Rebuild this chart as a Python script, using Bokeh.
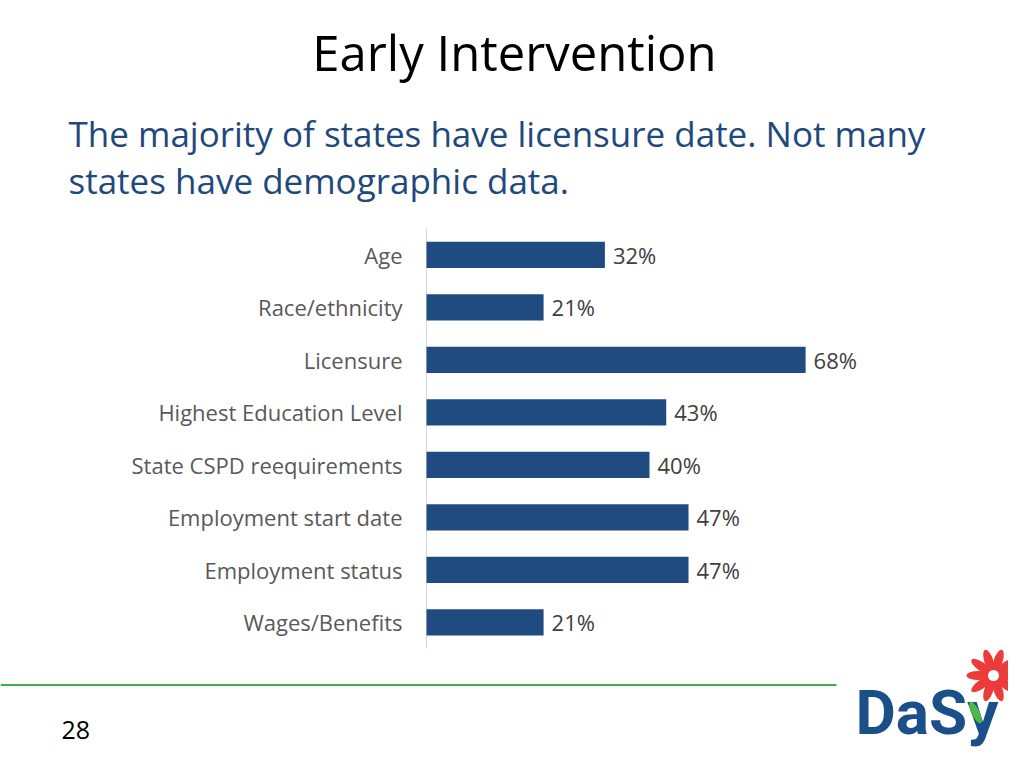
import math
from bokeh.plotting import figure
from bokeh.models import Range1d, ColumnDataSource
from bokeh.core.properties import value
from bokeh.embed import file_html
from bokeh.resources import INLINE

# ---- data ----
categories = ["Age", "Race/ethnicity", "Licensure", "Highest Education Level",
              "State CSPD reequirements", "Employment start date",
              "Employment status", "Wages/Benefits"]
values = [32, 21, 68, 43, 40, 47, 47, 21]
value_labels = [f"{v}%" for v in values]

title_text = "Early Intervention"
subtitle_lines = ["The majority of states have licensure date.  Not many",
                  "states have demographic data."]
page_number = "28"
logo_text = "DaSy"

# ---- layout constants (pixels) ----
W, H = 1008, 752
PLOT_L, PLOT_R = 426, 872        # bar area left / right
PLOT_T, PLOT_B = 228, 648        # bar area top / bottom
X_MAX = 80                        # percent at PLOT_R
FONT = "Open Sans"
BAR = "#1F4B80"

n = len(categories)
px_per_pct = (PLOT_R - PLOT_L) / X_MAX
px_per_cat = (PLOT_B - PLOT_T) / n

x_range = Range1d(-PLOT_L / px_per_pct, (W - PLOT_L) / px_per_pct)
# category index increases downward (index 0 at top)
y_range = Range1d((H - PLOT_T) / px_per_cat - 0.5, -PLOT_T / px_per_cat - 0.5)

p = figure(width=W, height=H, output_backend="svg", toolbar_location=None,
           x_range=x_range, y_range=y_range,
           x_axis_location=None, y_axis_location=None, min_border=0)
p.outline_line_color = None
p.grid.visible = False
p.background_fill_color = "white"
p.border_fill_color = "white"
p.extra_x_ranges = {"px": Range1d(0, W)}
p.extra_y_ranges = {"px": Range1d(H, 0)}
PX = dict(x_range_name="px", y_range_name="px")

src = ColumnDataSource(dict(cat=categories, idx=list(range(n)),
                            val=values, lab=value_labels))

# category axis line
p.segment(x0=[0], x1=[0], y0=[-0.5], y1=[n - 0.5], line_color="#D9D9D9", line_width=1)

# bars
p.hbar(y="idx", right="val", left=0, height=0.5, source=src,
       fill_color=BAR, line_color=None)

# category labels
p.text(x=0, y="idx", text="cat", source=src, x_offset=-24,
       text_align="right", text_baseline="middle", text_font=value(FONT),
       text_font_size="22px", text_color="#595959")

# value labels
p.text(x="val", y="idx", text="lab", source=src, x_offset=8,
       text_align="left", text_baseline="middle", text_font=value(FONT),
       text_font_size="22px", text_color="#404040")

# ---- header ----
p.text(x=[514], y=[51], text=[title_text], text_align="center",
       text_baseline="middle", text_font=value(FONT),
       text_font_size="49px", text_color="black", **PX)
p.text(x=[68, 68], y=[132.5, 180], text=subtitle_lines, text_align="left",
       text_baseline="middle", text_font=value(FONT),
       text_font_size="35px", text_color="#1F497D", **PX)

# ---- footer ----
p.quad(left=[0], right=[836], top=[683.5], bottom=[685.5],
       fill_color="#3CB043", line_color=None, **PX)
p.text(x=[61], y=[729.5], text=[page_number], text_align="left",
       text_baseline="middle", text_font=value(FONT),
       text_font_size="25px", text_color="black", **PX)
p.text(x=[855], y=[712], text=[logo_text], text_align="left",
       text_baseline="middle", text_font=value("Roboto"),
       text_font_style="bold", text_font_size="62px", text_color="#1B4F8A", **PX)
# flower petals and leaf
cx, cy, k = 993, 675, 10
angles = [2 * math.pi * i / k for i in range(k)]
p.ellipse(x=[cx + 15 * math.cos(a) for a in angles],
          y=[cy + 15 * math.sin(a) for a in angles],
          width=24, height=9, angle=[-a for a in angles],
          fill_color="#EC3B3B", line_color=None, **PX)
p.scatter(x=[cx], y=[cy], size=11, fill_color="white", line_color=None, **PX)
p.ellipse(x=[975], y=[712], width=8, height=24, angle=[0.45],
          fill_color="#4DB748", line_color=None, **PX)

open("out.html", "w").write(file_html(p, INLINE))
